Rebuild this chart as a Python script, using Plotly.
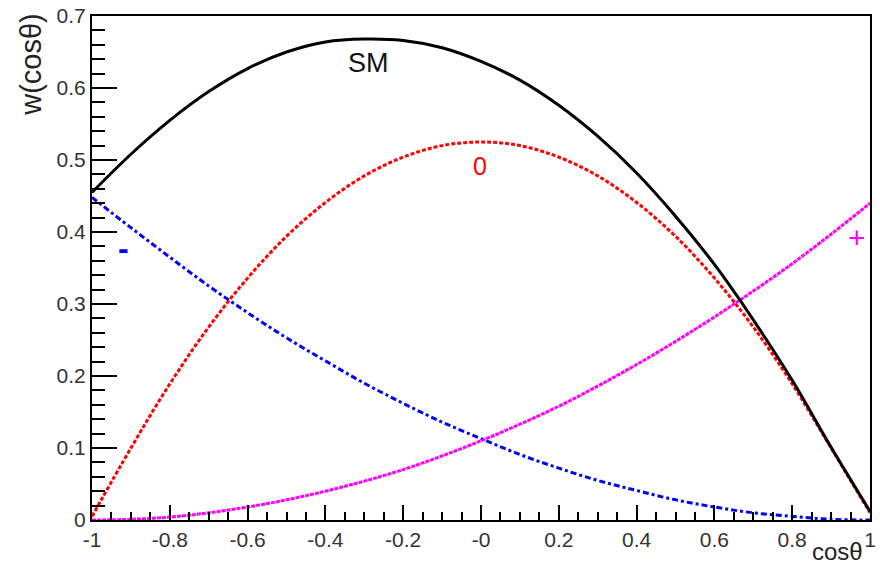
import plotly.graph_objects as go

# cos(theta) sample points
cos_theta = [-1.0, -0.9, -0.8, -0.7, -0.6, -0.5, -0.4, -0.3, -0.2, -0.1, 0.0,
             0.1, 0.2, 0.3, 0.4, 0.5, 0.6, 0.7, 0.8, 0.9, 1.0]

w_sm = [0.455, 0.508, 0.555, 0.595, 0.627, 0.650, 0.664, 0.668, 0.666, 0.656, 0.637,
        0.611, 0.576, 0.533, 0.482, 0.422, 0.355, 0.278, 0.194, 0.101, 0.012]
w_zero = [0.005, 0.100, 0.189, 0.268, 0.336, 0.394, 0.441, 0.478, 0.504, 0.520, 0.525,
          0.520, 0.504, 0.478, 0.441, 0.394, 0.336, 0.268, 0.189, 0.100, 0.010]
w_minus = [0.448, 0.406, 0.365, 0.325, 0.288, 0.253, 0.221, 0.190, 0.162, 0.136, 0.113,
           0.091, 0.072, 0.055, 0.041, 0.028, 0.018, 0.010, 0.005, 0.001, 0.0]
w_plus = [0.0, 0.001, 0.004, 0.010, 0.018, 0.028, 0.040, 0.054, 0.070, 0.089, 0.110,
          0.133, 0.158, 0.186, 0.216, 0.248, 0.282, 0.318, 0.356, 0.397, 0.440]

x_tickvals = [-1, -0.8, -0.6, -0.4, -0.2, 0, 0.2, 0.4, 0.6, 0.8, 1]
x_ticktext = ["-1", "-0.8", "-0.6", "-0.4", "-0.2", "-0", "0.2", "0.4", "0.6", "0.8", "1"]
y_tickvals = [0, 0.1, 0.2, 0.3, 0.4, 0.5, 0.6, 0.7]
y_ticktext = ["0", "0.1", "0.2", "0.3", "0.4", "0.5", "0.6", "0.7"]

fig = go.Figure()

fig.add_trace(go.Scatter(x=cos_theta, y=w_minus, mode="lines", line_shape="spline",
                         line=dict(color="#0000ff", width=3, dash="6px,3px,3px,3px")))
fig.add_trace(go.Scatter(x=cos_theta, y=w_plus, mode="lines", line_shape="spline",
                         line=dict(color="#ff00ff", width=3, dash="4px,1px")))
fig.add_trace(go.Scatter(x=cos_theta, y=w_zero, mode="lines", line_shape="spline",
                         line=dict(color="#ff0000", width=3, dash="4px,2px")))
fig.add_trace(go.Scatter(x=cos_theta, y=w_sm, mode="lines", line_shape="spline",
                         line=dict(color="black", width=3)))

lbl_font = "Liberation Sans, Arial, sans-serif"
notes = [
    dict(x=-0.29, y=0.635, text="SM", font=dict(color="#111", size=27, family=lbl_font)),
    dict(x=-0.003, y=0.492, text="0", font=dict(color="#ff0000", size=25, family=lbl_font)),
    dict(x=-0.918, y=0.378, text="<b>-</b>", font=dict(color="#0000ff", size=32, family=lbl_font)),
    dict(x=0.967, y=0.392, text="+", font=dict(color="#ff00ff", size=30, family=lbl_font)),
]
annotations = [dict(n, xref="x", yref="y", showarrow=False) for n in notes]
annotations.append(dict(text="w(cosθ)", textangle=-90, xref="paper", yref="paper",
                        x=-0.078, y=1.01, xanchor="center", yanchor="top", showarrow=False,
                        font=dict(size=29, color="#222", family=lbl_font)))
annotations.append(dict(text="cosθ", xref="paper", yref="paper", x=0.994, y=-0.062,
                        xanchor="right", yanchor="middle", showarrow=False,
                        font=dict(size=24, color="#222", family=lbl_font)))

fig.update_layout(
    width=880, height=565,
    margin=dict(l=92, r=4, t=16, b=45),
    paper_bgcolor="white", plot_bgcolor="white",
    showlegend=False,
    font=dict(family=lbl_font, size=21, color="#333"),
    annotations=annotations,
    xaxis=dict(range=[-1, 1], tickvals=x_tickvals, ticktext=x_ticktext,
               tickfont=dict(size=21, color="#333"),
               ticks="inside", ticklen=15, tickwidth=1.5, tickcolor="black",
               minor=dict(dtick=0.05, tick0=0, ticks="inside", ticklen=8, tickwidth=1.5,
                          tickcolor="black", showgrid=False),
               showgrid=False, zeroline=False, showline=True, linecolor="black",
               linewidth=2, mirror=True),
    yaxis=dict(range=[0, 0.7], tickvals=y_tickvals, ticktext=y_ticktext,
               tickfont=dict(size=21, color="#333"),
               ticks="inside", ticklen=25, tickwidth=1.5, tickcolor="black",
               minor=dict(dtick=0.02, tick0=0, ticks="inside", ticklen=13, tickwidth=1.5,
                          tickcolor="black", showgrid=False),
               showgrid=False, zeroline=False, showline=True, linecolor="black",
               linewidth=2, mirror=True),
)

# drop the browser's default body margin so the figure sits at the window's corner
fig.write_html("out.html", config={"displayModeBar": False},
               post_script="document.body.style.margin='0px';")
